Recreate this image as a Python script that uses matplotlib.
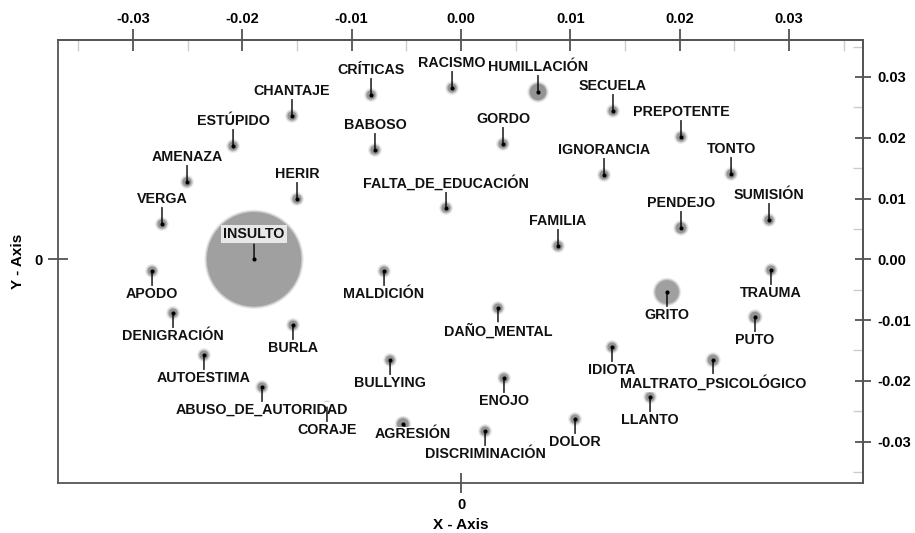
import numpy as np
import matplotlib
import matplotlib.pyplot as plt

matplotlib.rcParams['font.family'] = ['Liberation Sans', 'DejaVu Sans']
matplotlib.rcParams['font.weight'] = 'bold'

### datos

terminos = ['CRÍTICAS', 'RACISMO', 'CHANTAJE', 'ESTÚPIDO', 'BABOSO', 'AMENAZA',
            'HERIR', 'FALTA_DE_EDUCACIÓN', 'VERGA', 'INSULTO', 'HUMILLACIÓN',
            'SECUELA', 'GORDO', 'PREPOTENTE', 'IGNORANCIA', 'TONTO', 'PENDEJO',
            'SUMISIÓN', 'FAMILIA', 'APODO', 'MALDICIÓN', 'DENIGRACIÓN', 'BURLA',
            'AUTOESTIMA', 'BULLYING', 'ABUSO_DE_AUTORIDAD', 'CORAJE', 'AGRESIÓN',
            'DAÑO_MENTAL', 'GRITO', 'TRAUMA', 'PUTO', 'IDIOTA',
            'MALTRATO_PSICOLÓGICO', 'ENOJO', 'LLANTO', 'DOLOR', 'DISCRIMINACIÓN']

coord_x = [-0.00823, -0.00082, -0.01546, -0.02085, -0.00787, -0.02506,
           -0.01500, -0.00137, -0.02735, -0.01893, 0.00704,
           0.01390, 0.00384, 0.02012, 0.01308, 0.02470, 0.02012,
           0.02817, 0.00887, -0.02826, -0.00704, -0.02634, -0.01537,
           -0.02351, -0.00649, -0.01820, -0.01226, -0.00531,
           0.00338, 0.01884, 0.02835, 0.02689, 0.01381,
           0.02305, 0.00393, 0.01729, 0.01043, 0.00220]

coord_y = [0.02703, 0.02818, 0.02358, 0.01864, 0.01798, 0.01272,
           0.00992, 0.00844, 0.00581, 0.00000, 0.02753,
           0.02440, 0.01897, 0.02012, 0.01387, 0.01403, 0.00515,
           0.00646, 0.00219, -0.00192, -0.00192, -0.00884, -0.01081,
           -0.01575, -0.01657, -0.02101, -0.02430, -0.02710,
           -0.00801, -0.00538, -0.00176, -0.00949, -0.01443,
           -0.01657, -0.01953, -0.02266, -0.02628, -0.02825]

frecuencia = [1, 1, 1, 1, 1, 1,
              1, 1, 1, 110, 3.4,
              1, 1, 1, 1, 1, 1.4,
              1, 1, 1, 1, 1, 1,
              1, 1, 1, 1, 1.7,
              1, 6.9, 1, 1.4, 1,
              1.4, 1, 1, 1, 1]

ticks_x = [-0.03, -0.02, -0.01, 0.00, 0.01, 0.02, 0.03]
ticks_y = [-0.03, -0.02, -0.01, 0.00, 0.01, 0.02, 0.03]

### colocación de etiquetas

abajo = {'APODO', 'MALDICIÓN', 'DENIGRACIÓN', 'BURLA', 'AUTOESTIMA', 'BULLYING',
         'ABUSO_DE_AUTORIDAD', 'CORAJE', 'DAÑO_MENTAL', 'GRITO', 'TRAUMA',
         'PUTO', 'IDIOTA', 'MALTRATO_PSICOLÓGICO', 'ENOJO', 'LLANTO', 'DOLOR',
         'DISCRIMINACIÓN'}

fig = plt.figure(figsize=(9.15, 5.33), dpi=100)
ax = fig.add_axes([0.0634, 0.0938, 0.8798, 0.8312])
ax.set_xlim(-0.03686, 0.03677)
ax.set_ylim(-0.0368, 0.03608)

x = np.array(coord_x)
y = np.array(coord_y)
d = np.sqrt(42 * np.array(frecuencia))
grande = d > 15

# halos difuminados
ax.scatter(x, y, s=(d + 3.5) ** 2, color='#ececec', linewidths=0, zorder=1)
ax.scatter(x, y, s=(d + 1.8) ** 2, color='#c8c8c8', linewidths=0, zorder=1)
ax.scatter(x[~grande], y[~grande], s=d[~grande] ** 2, color='#949494',
           linewidths=0, zorder=1)
ax.scatter(x[grande], y[grande], s=d[grande] ** 2, color='#a0a0a0',
           linewidths=0, zorder=1)
ax.scatter(x, y, s=9, color='black', linewidths=0, zorder=2)

for t, xi, yi in zip(terminos, coord_x, coord_y):
    caja = dict(boxstyle='square,pad=0.05', fc='white', ec='none')
    if t == 'INSULTO':
        caja = dict(boxstyle='square,pad=0.15', fc='#f0f0f0', ec='none', alpha=0.9)
    if t == 'AGRESIÓN':
        off = (7, -7.5)
    elif t in abajo:
        off = (0, -16.5)
    else:
        off = (0, 18)
    ax.annotate(t, (xi, yi), xytext=off, textcoords='offset points',
                ha='center', va='center', fontsize=10.3, color='#111111',
                bbox=caja, zorder=3,
                arrowprops=dict(arrowstyle='-', color='black', lw=1,
                                shrinkA=0.5, shrinkB=0))

# ejes
for s in ax.spines.values():
    s.set_color('#555555')
    s.set_linewidth(1.3)

ax.set_xticks([0])
ax.set_xticklabels(['0'])
ax.set_yticks([0])
ax.set_yticklabels(['0'])
ax.tick_params(direction='inout', length=14, width=1.2, color='#444444',
               labelsize=10.5, pad=4)
ax.set_xlabel('X - Axis', fontsize=11, fontweight='bold', labelpad=4)
ax.set_ylabel('Y - Axis', fontsize=11, fontweight='bold', labelpad=7)

top = ax.secondary_xaxis('top')
top.set_xticks(ticks_x)
top.set_xticklabels(['%.2f' % v for v in ticks_x])
top.set_xticks([-0.035, -0.025, -0.015, -0.005, 0.005, 0.015, 0.025, 0.035], minor=True)
top.tick_params(which='major', direction='inout', length=16, width=1.2,
                color='#444444', labelsize=10.5, pad=2)
top.tick_params(which='minor', direction='in', length=8, width=1, color='#cccccc')

der = ax.secondary_yaxis('right')
der.set_yticks(ticks_y)
der.set_yticklabels(['%.2f' % v for v in ticks_y])
der.set_yticks([-0.035, -0.025, -0.015, -0.005, 0.005, 0.015, 0.025, 0.035], minor=True)
der.tick_params(which='major', direction='inout', length=12, width=1.2,
                color='#444444', labelsize=10.5, pad=4)
der.tick_params(which='minor', direction='in', length=7, width=1, color='#cccccc')
for sa in (top, der):
    for s in sa.spines.values():
        s.set_color('#555555')
        s.set_linewidth(1.3)

fig.savefig('out.png', dpi=100)
